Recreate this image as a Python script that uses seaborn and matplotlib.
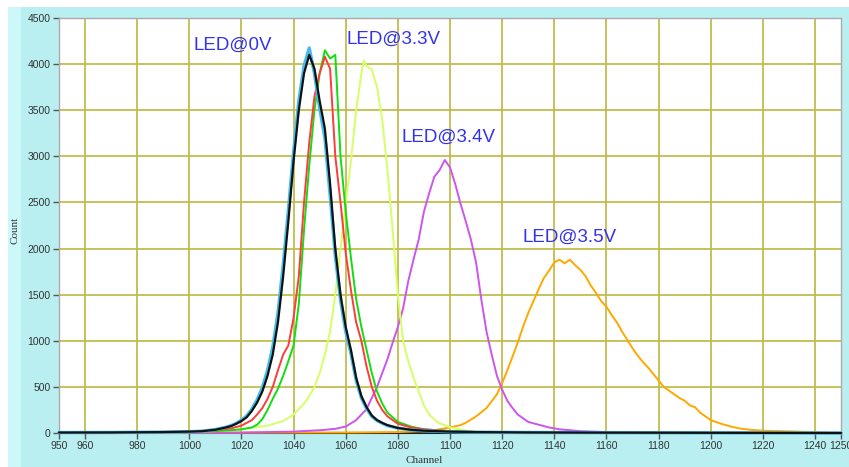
import numpy as np
import pandas as pd
import seaborn as sns
import matplotlib.pyplot as plt
from matplotlib.patches import Rectangle

# channel / count readings for each LED spectrum
black_ch = [950, 970, 990, 1000, 1005, 1010, 1014, 1016, 1018, 1020, 1022, 1024, 1026, 1028, 1030,
            1032, 1034, 1036, 1038, 1040, 1042, 1044, 1046, 1048, 1050, 1052, 1054, 1056, 1058,
            1060, 1062, 1064, 1066, 1068, 1070, 1072, 1074, 1076, 1080, 1085, 1090, 1100, 1110,
            1130, 1160, 1200, 1250]
black_ct = [5, 6, 10, 15, 20, 35, 60, 75, 100, 130, 170, 240, 330, 450, 620,
            850, 1200, 1700, 2300, 2950, 3500, 3900, 4100, 3950, 3600, 3300, 2700, 2000, 1500,
            1150, 900, 600, 400, 280, 190, 140, 110, 85, 55, 35, 25, 15, 10,
            6, 4, 2, 0]
cyan_ct = [5, 6, 10, 15, 20, 38, 62, 80, 105, 140, 185, 260, 360, 490, 680,
           930, 1300, 1820, 2420, 3050, 3600, 3980, 4175, 3900, 3520, 3200, 2580, 1920, 1440,
           1100, 860, 570, 380, 265, 180, 135, 105, 80, 52, 33, 24, 14, 9,
           6, 4, 2, 0]

red_ch = [950, 970, 990, 1000, 1010, 1016, 1020, 1024, 1026, 1028, 1030, 1032, 1034, 1036, 1038,
          1040, 1042, 1044, 1046, 1048, 1050, 1052, 1054, 1056, 1058, 1060, 1062, 1064, 1066,
          1068, 1070, 1072, 1074, 1076, 1080, 1085, 1090, 1100, 1110, 1140, 1250]
red_ct = [4, 5, 8, 10, 30, 50, 80, 140, 200, 270, 370, 500, 680, 850, 950,
          1250, 1700, 2500, 3150, 3650, 3900, 4080, 3950, 3000, 2500, 1950, 1550, 1200, 1000,
          720, 500, 350, 250, 180, 100, 60, 40, 20, 10, 4, 0]

green_ch = [950, 970, 990, 1000, 1010, 1016, 1020, 1024, 1026, 1028, 1030, 1032, 1034, 1036, 1038,
            1040, 1042, 1044, 1046, 1048, 1050, 1052, 1054, 1056, 1058, 1060, 1062, 1064, 1066,
            1068, 1070, 1072, 1074, 1076, 1080, 1085, 1090, 1100, 1110, 1140, 1250]
green_ct = [3, 5, 6, 8, 20, 30, 40, 60, 90, 150, 250, 370, 480, 620, 780,
            950, 1400, 2200, 2900, 3500, 3900, 4150, 4060, 4100, 3000, 2400, 1900, 1450, 1150,
            900, 650, 450, 320, 220, 120, 70, 40, 20, 10, 4, 0]

ygreen_ch = [950, 980, 990, 1000, 1010, 1020, 1030, 1036, 1040, 1044, 1046, 1048, 1050, 1052, 1054,
             1056, 1058, 1060, 1062, 1064, 1066, 1067, 1068, 1070, 1072, 1074, 1076, 1078, 1080,
             1082, 1084, 1086, 1088, 1090, 1092, 1095, 1100, 1105, 1110, 1120, 1150, 1250]
ygreen_ct = [2, 3, 5, 10, 20, 40, 80, 130, 200, 320, 400, 500, 650, 850, 1100,
             1500, 2000, 2500, 2950, 3500, 3900, 4040, 3980, 3940, 3750, 3400, 2850, 2200, 1500,
             1000, 780, 600, 450, 300, 200, 120, 60, 30, 15, 5, 2, 0]

purple_ch = [950, 1000, 1020, 1040, 1050, 1056, 1060, 1064, 1068, 1070, 1072, 1074, 1076, 1078, 1080,
             1082, 1084, 1086, 1088, 1090, 1092, 1094, 1096, 1098, 1100, 1102, 1104, 1106, 1108,
             1110, 1112, 1114, 1116, 1118, 1120, 1122, 1124, 1126, 1128, 1130, 1134, 1138, 1142,
             1150, 1160, 1180, 1250]
purple_ct = [0, 2, 5, 15, 30, 45, 70, 140, 260, 380, 500, 650, 800, 980, 1150,
             1350, 1650, 1880, 2100, 2400, 2600, 2780, 2850, 2960, 2880, 2700, 2490, 2300, 2100,
             1850, 1450, 1100, 850, 620, 470, 350, 270, 200, 160, 120, 90, 60, 40,
             20, 10, 5, 0]

orange_ch = [950, 1060, 1080, 1090, 1096, 1100, 1104, 1106, 1110, 1114, 1118, 1120, 1122, 1124, 1126,
             1128, 1130, 1132, 1134, 1136, 1138, 1140, 1142, 1144, 1146, 1148, 1150, 1152, 1154,
             1156, 1158, 1160, 1162, 1164, 1166, 1168, 1170, 1172, 1174, 1176, 1178, 1180, 1182,
             1184, 1186, 1188, 1190, 1192, 1194, 1196, 1198, 1200, 1204, 1208, 1212, 1216, 1220,
             1230, 1240, 1250]
orange_ct = [0, 5, 10, 20, 40, 60, 85, 110, 180, 270, 420, 540, 680, 830, 980,
             1150, 1300, 1430, 1560, 1680, 1760, 1850, 1880, 1840, 1880, 1820, 1770, 1700, 1600,
             1520, 1430, 1370, 1280, 1200, 1100, 1010, 920, 840, 770, 710, 640, 570, 500,
             460, 420, 380, 350, 300, 280, 220, 180, 140, 100, 68, 45, 33, 25,
             18, 10, 0]

x_ticks = [950, 960, 980, 1000, 1020, 1040, 1060, 1080, 1100, 1120, 1140, 1160, 1180, 1200,
           1220, 1240, 1250]
y_ticks = [0, 500, 1000, 1500, 2000, 2500, 3000, 3500, 4000, 4500]

labels = ["LED@0V", "LED@3.3V", "LED@3.4V", "LED@3.5V"]
label_x = [1016.8, 1078.3, 1099.4, 1145.9]
label_y = [4208, 4273, 3210, 2126]

sns.set_style("white")

fig = plt.figure(figsize=(8.49, 4.67), dpi=100)
fig.patch.set_facecolor("white")
fig.patches.append(Rectangle((8 / 849, 0), 1, 460 / 467, transform=fig.transFigure,
                             facecolor="#b9eff1", edgecolor="none", zorder=-2))
fig.patches.append(Rectangle((8 / 849, 0), 13 / 849, 460 / 467, transform=fig.transFigure,
                             facecolor="#cdf8fa", edgecolor="none", zorder=-1))

ax = fig.add_axes([59 / 849, 34 / 467, 782 / 849, 415 / 467])
ax.set_facecolor("white")

series = [
    (orange_ch, orange_ct, "#ffa800", 1.4),
    (purple_ch, purple_ct, "#cc55ee", 1.4),
    (ygreen_ch, ygreen_ct, "#d4ff66", 1.4),
    (green_ch, green_ct, "#11dd11", 1.4),
    (red_ch, red_ct, "#ff3b3b", 1.4),
    (black_ch, cyan_ct, "#44bbee", 2.4),
    (black_ch, black_ct, "#111111", 1.6),
]
for ch, ct, col, lw in series:
    df = pd.DataFrame({"Channel": ch, "Count": ct})
    sns.lineplot(data=df, x="Channel", y="Count", color=col, linewidth=lw, ax=ax,
                 clip_on=False, zorder=3)

for t, x, y in zip(labels, label_x, label_y):
    ax.text(x, y, t, color="#3333ee", fontsize=13.5, family="Liberation Sans",
            ha="center", va="center")

ax.set_xlim(950, 1250)
ax.set_ylim(0, 4500)
ax.set_xticks(x_ticks)
ax.set_yticks(y_ticks)
ax.set_xticklabels([str(v) for v in x_ticks], family="Liberation Sans", fontsize=7.5,
                   color="#333333")
ax.set_yticklabels([str(v) for v in y_ticks], family="Liberation Sans", fontsize=7.5,
                   color="#333333")
ax.tick_params(axis="both", direction="out", length=4, width=1, color="#555555", pad=2,
               left=True, bottom=True)

for v in x_ticks[1:-1]:
    ax.axvline(v, color="#c2bd4e", lw=1.3, zorder=1)
for v in y_ticks[1:-1]:
    ax.axhline(v, color="#c2bd4e", lw=1.3, zorder=1)

for s in ["left", "top", "right"]:
    ax.spines[s].set_color("#b0a8a8")
    ax.spines[s].set_linewidth(1)
ax.spines["bottom"].set_color("#222222")
ax.spines["bottom"].set_linewidth(1.5)

ax.set_xlabel("Channel", family="Liberation Serif", fontsize=8, color="#333333")
ax.xaxis.set_label_coords((424 - 59) / 782, -0.055)
ax.set_ylabel("Count", family="Liberation Serif", fontsize=8, color="#333333")
ax.yaxis.set_label_coords((20 - 59) / 782, 0.487)

fig.savefig("out.png", dpi=100, facecolor=fig.get_facecolor())
